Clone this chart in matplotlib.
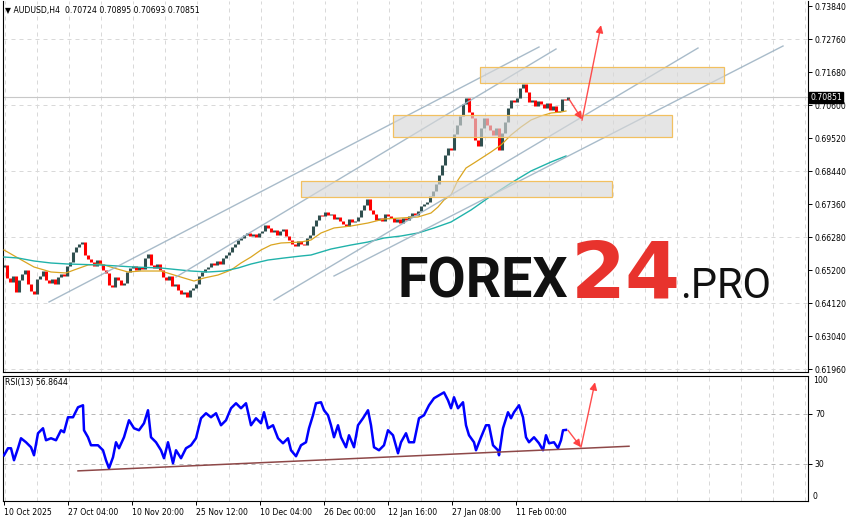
import numpy as np
import matplotlib
matplotlib.use("Agg")
import matplotlib.pyplot as plt
import matplotlib.transforms as mtransforms
from matplotlib.patches import Rectangle

# --- data ------------------------------------------------------------------
# closes sampled every 3rd H4 bar, starting at 10 Oct 2025
closes = [
    0.65364, 0.64938, 0.64808, 0.65004, 0.64480, 0.64873, 0.65069, 0.65200, 0.64742, 0.64512,
    0.64414, 0.64906, 0.65004, 0.65167, 0.64873, 0.64775, 0.64906, 0.64742, 0.64971, 0.65069,
    0.65004, 0.65331, 0.65462, 0.65789, 0.65953, 0.66051, 0.66116, 0.65691, 0.65560, 0.65462,
    0.65331, 0.65527, 0.65396, 0.65200, 0.65102, 0.64709, 0.64644, 0.64971, 0.64873, 0.64709,
    0.64775, 0.65135, 0.65265, 0.65331, 0.65200, 0.65298, 0.65233, 0.65593, 0.65724, 0.65364,
    0.65265, 0.65396, 0.65200, 0.64971, 0.64873, 0.65004, 0.64676, 0.64742, 0.64545, 0.64414,
    0.64480, 0.64316, 0.64545, 0.64611, 0.64742, 0.65004, 0.65135, 0.65233, 0.65298, 0.65429,
    0.65364, 0.65495, 0.65396, 0.65593, 0.65691, 0.65789, 0.65953, 0.66051, 0.66182, 0.66247,
    0.66345, 0.66411, 0.66313, 0.66378, 0.66280, 0.66411, 0.66476, 0.66673, 0.66575, 0.66444,
    0.66509, 0.66345, 0.66476, 0.66542, 0.66313, 0.66182, 0.66051, 0.65985, 0.66149, 0.66051,
    0.66018, 0.66247, 0.66345, 0.66640, 0.66836, 0.67000, 0.66967, 0.67098, 0.67000, 0.67033,
    0.66869, 0.66935, 0.66804, 0.66705, 0.66640, 0.66869, 0.66771, 0.66804, 0.66935, 0.67164,
    0.67327, 0.67524, 0.67164, 0.67033, 0.66836, 0.66902, 0.66804, 0.67033, 0.66967, 0.66902,
    0.66771, 0.66869, 0.66738, 0.66902, 0.66836, 0.66967, 0.67065, 0.67000, 0.67131, 0.67295,
    0.67360, 0.67425, 0.67622, 0.67785, 0.68014, 0.68309, 0.68636, 0.68964, 0.69193, 0.69127,
    0.69651, 0.69945, 0.70240, 0.70633, 0.70829, 0.70371, 0.70175, 0.69455, 0.69258, 0.69847,
    0.70175, 0.69945, 0.69782, 0.69618, 0.69847, 0.69127, 0.69684, 0.70044, 0.70502, 0.70764,
    0.70698, 0.70829, 0.71156, 0.71287, 0.71025, 0.70698, 0.70764, 0.70567, 0.70731, 0.70633,
    0.70502, 0.70665, 0.70436, 0.70567, 0.70371, 0.70404, 0.70796, 0.70764, 0.70851,
]
first_open = 0.65300
bar_step = 3

# moving averages (bar index, value)
fast_ma_bars = [0, 14, 30, 47, 62, 70, 84, 97, 110, 124, 137, 157, 180, 190, 200, 214, 227,
                237, 247, 257, 267, 277, 297, 307, 317, 330, 347, 364, 380, 397, 414, 427,
                434, 440, 447, 454, 462, 470, 487, 497, 507, 517, 527, 537, 547, 557, 562]
fast_ma = [0.65855, 0.65593, 0.65298, 0.65135, 0.65102, 0.65200, 0.65364, 0.65396, 0.65265,
           0.65135, 0.65167, 0.65167, 0.64938, 0.64840, 0.64938, 0.65036, 0.65200, 0.65429,
           0.65625, 0.65855, 0.66018, 0.66084, 0.66116, 0.66182, 0.66411, 0.66575, 0.66640,
           0.66738, 0.66869, 0.66902, 0.66935, 0.67065, 0.67262, 0.67491, 0.67655, 0.68145,
           0.68538, 0.68702, 0.69062, 0.69291, 0.69618, 0.69880, 0.70109, 0.70240, 0.70338,
           0.70371, 0.70404]
slow_ma_bars = [0, 14, 30, 47, 64, 97, 130, 157, 187, 204, 220, 234, 247, 264, 280, 297, 307,
                327, 347, 364, 380, 397, 414, 430, 447, 467, 487, 507, 527, 547, 562]
slow_ma = [0.65625, 0.65593, 0.65495, 0.65429, 0.65396, 0.65364, 0.65298, 0.65265, 0.65167,
           0.65135, 0.65167, 0.65265, 0.65396, 0.65527, 0.65593, 0.65658, 0.65691, 0.65887,
           0.66018, 0.66116, 0.66247, 0.66313, 0.66411, 0.66575, 0.66771, 0.67164, 0.67622,
           0.68047, 0.68440, 0.68734, 0.68931]

# RSI(13) (bar index, value)
rsi_bars = [0, 4, 7, 10, 14, 17, 22, 27, 30, 34, 39, 42, 47, 52, 57, 60, 64, 69, 74, 79, 80,
            84, 87, 94, 99, 102, 105, 109, 112, 115, 120, 125, 130, 135, 140, 144, 147, 152,
            157, 160, 164, 169, 172, 177, 182, 187, 192, 197, 202, 207, 212, 217, 222, 227,
            232, 237, 242, 247, 252, 257, 260, 264, 269, 274, 279, 284, 287, 292, 297, 302,
            305, 309, 312, 317, 320, 324, 327, 330, 334, 337, 342, 345, 350, 354, 359, 364,
            367, 370, 375, 380, 384, 389, 394, 397, 402, 405, 410, 415, 420, 425, 430, 435,
            440, 444, 447, 450, 454, 459, 462, 465, 470, 472, 477, 482, 485, 489, 494, 495,
            499, 504, 507, 510, 515, 519, 522, 525, 530, 535, 539, 542, 545, 550, 554, 557,
            559, 562]
rsi = [36.6, 42.2, 42.2, 32.6, 42.2, 50.2, 47.0, 43.0, 36.6, 54.2, 58.2, 48.6, 50.2, 48.6,
       56.6, 55.0, 67.0, 67.0, 75.0, 76.6, 56.6, 51.0, 44.6, 44.6, 40.6, 32.6, 26.2, 35.0,
       47.0, 42.2, 51.0, 64.6, 58.2, 56.6, 62.2, 72.6, 51.0, 47.0, 40.6, 34.2, 47.0, 30.2,
       40.6, 34.2, 42.2, 44.6, 50.2, 66.2, 70.2, 67.0, 70.2, 60.6, 64.6, 74.2, 78.2, 74.2,
       78.2, 60.6, 66.2, 62.2, 71.0, 58.2, 60.6, 50.2, 46.2, 50.2, 40.6, 35.8, 44.6, 47.0,
       58.2, 68.6, 78.2, 79.0, 72.6, 68.6, 60.6, 51.0, 60.6, 51.0, 43.0, 52.6, 43.0, 60.6,
       66.2, 72.6, 60.6, 43.0, 40.6, 44.6, 56.6, 52.6, 38.2, 47.0, 54.2, 47.0, 47.0, 66.2,
       68.6, 76.6, 82.2, 84.6, 86.9, 80.6, 74.2, 83.0, 74.2, 79.0, 60.6, 52.6, 47.0, 40.6,
       51.0, 60.6, 60.6, 44.6, 40.6, 36.6, 58.2, 71.0, 66.2, 71.0, 76.6, 67.0, 51.0, 47.0,
       51.0, 46.2, 40.6, 52.6, 46.2, 47.0, 42.2, 48.6, 56.6, 56.86]

# chart objects: channel lines, zones, arrows (bar index, price)
channel_lines = [((45, 0.64153), (535, 0.72498)),
                 ((172, 0.64971), (552, 0.72433)),
                 ((270, 0.64218), (694, 0.72465)),
                 ((330, 0.65004), (779, 0.72531))]
zones = [((297, 0.67599), (608, 0.68113)),
         ((389, 0.69563), (668, 0.70273)),
         ((476, 0.71320), (720, 0.71834))]
price_arrows = [((565, 0.70796), (578, 0.70130)),
                ((578, 0.70100), (597, 0.73215))]
rsi_trend = ((74, 24.1), (625, 43.8))
rsi_arrows = [((564, 56.6), (577, 43.0)),
              ((577, 43.0), (591, 95.0))]

price_ticks = [0.73840, 0.72760, 0.71680, 0.70600, 0.69520, 0.68440,
               0.67360, 0.66280, 0.65200, 0.64120, 0.63040, 0.61960]
time_labels = ["10 Oct 2025", "27 Oct 04:00", "10 Nov 20:00", "25 Nov 12:00", "10 Dec 04:00",
               "26 Dec 00:00", "12 Jan 16:00", "27 Jan 08:00", "11 Feb 00:00"]
time_label_bars = [0, 64, 128, 192, 256, 320, 384, 448, 512]

symbol_title = "\u25bc AUDUSD,H4  0.70724 0.70895 0.70693 0.70851"
rsi_title = "RSI(13) 56.8644"

# --- figure -----------------------------------------------------------------
W, H = 855, 521
fig = plt.figure(figsize=(W / 100, H / 100), dpi=100)
fs = 5.6
grid_col = "#d9d9d9"
red = "#ff3b3b"


def px_axes(l, t, r, b):
    return fig.add_axes([l / W, 1 - b / H, (r - l) / W, (b - t) / H])


ax = px_axes(3, 1, 808, 372)
rax = px_axes(3, 376, 808, 501)

for a in (ax, rax):
    a.set_xlim(-1, 804)
    for s in a.spines.values():
        s.set_color("black")
        s.set_linewidth(0.8)
    a.yaxis.tick_right()
    a.tick_params(axis="y", direction="out", length=3, width=0.7, labelsize=fs, pad=2)
    for gx in np.arange(0, 805, 32):
        a.axvline(gx + 0.7, color=grid_col, lw=0.72, ls=(0, (4, 4)), zorder=0)
ax.spines["top"].set_visible(False)

# main panel
ax.set_ylim(0.61862, 0.74004)
ax.set_yticks(price_ticks)
ax.set_yticklabels([f"{p:.5f}" for p in price_ticks])
ax.set_xticks([])
for p in price_ticks[1::2]:
    ax.axhline(p, color=grid_col, lw=0.72, ls=(0, (4, 4)), zorder=0)
ax.axhline(closes[-1], color="#c8c8c8", lw=0.8, zorder=1)

bars = np.arange(len(closes)) * bar_step
c = np.array(closes)
o = np.concatenate([[first_open], c[:-1]])
up = c >= o
ax.vlines(bars[up], np.minimum(o, c)[up], np.maximum(o, c)[up], color="#2f4f4f", lw=2.2, zorder=2)
ax.vlines(bars[~up], np.minimum(o, c)[~up], np.maximum(o, c)[~up], color="#ff0000", lw=2.2, zorder=2)

ax.plot(fast_ma_bars, fast_ma, color="#daa520", lw=0.9, zorder=3)
ax.plot(slow_ma_bars, slow_ma, color="#20b2aa", lw=1.0, zorder=3)

for (x0, y0), (x1, y1) in channel_lines:
    ax.plot([x0, x1], [y0, y1], color="#9fb4c4", lw=1.0, alpha=0.9, zorder=4)

for (x0, y0), (x1, y1) in zones:
    ax.add_patch(Rectangle((x0, y0), x1 - x0, y1 - y0, facecolor="#d8d8d8", alpha=0.65,
                           edgecolor="none", zorder=5))
    ax.add_patch(Rectangle((x0, y0), x1 - x0, y1 - y0, facecolor="none",
                           edgecolor="#f2c060", lw=0.9, zorder=5))

for (x0, y0), (x1, y1) in price_arrows:
    ax.annotate("", xy=(x1, y1), xytext=(x0, y0),
                arrowprops=dict(arrowstyle="-|>", color=red, lw=1.0, mutation_scale=11,
                                shrinkA=0, shrinkB=0, alpha=0.9), zorder=6)

trans = mtransforms.blended_transform_factory(ax.transAxes, ax.transData)
ax.text(1.003, closes[-1], f"{closes[-1]:.5f}", transform=trans, fontsize=fs, color="white",
        va="center", ha="left", zorder=10, clip_on=False,
        bbox=dict(boxstyle="square,pad=0.15", facecolor="black", edgecolor="black"))

# RSI panel
rax.set_ylim(0, 100)
rax.set_yticks([30, 70])
rax.set_yticklabels(["30", "70"])
rtrans = mtransforms.blended_transform_factory(rax.transAxes, rax.transData)
rax.text(1.006, 100, "100", transform=rtrans, fontsize=fs, va="top", ha="left", clip_on=False)
rax.text(1.006, 0, "0", transform=rtrans, fontsize=fs, va="bottom", ha="left", clip_on=False)
for lv in (30, 70):
    rax.axhline(lv, color="#b8b8b8", lw=0.72, ls=(0, (4, 4)), zorder=0)
rax.plot(rsi_bars, rsi, color="#0000ff", lw=1.8, zorder=3)
(tx0, ty0), (tx1, ty1) = rsi_trend
rax.plot([tx0, tx1], [ty0, ty1], color="#8e4848", lw=1.1, zorder=4)
for (x0, y0), (x1, y1) in rsi_arrows:
    rax.annotate("", xy=(x1, y1), xytext=(x0, y0),
                 arrowprops=dict(arrowstyle="-|>", color=red, lw=1.0, mutation_scale=11,
                                 shrinkA=0, shrinkB=0, alpha=0.9), zorder=6)
rax.set_xticks(time_label_bars)
rax.set_xticklabels(time_labels)
rax.tick_params(axis="x", direction="out", length=3, width=0.7, labelsize=fs, pad=2)
for lbl in rax.get_xticklabels():
    lbl.set_ha("left")

# header texts
fig.text(5 / W, 1 - 10 / H, symbol_title, fontsize=fs, va="center", ha="left")
fig.text(5 / W, 1 - 383 / H, rsi_title, fontsize=fs, va="center", ha="left")

# watermark
base = 1 - 298 / H
fig.text(397 / W, base, "FOREX", family="Roboto", fontweight="bold", fontsize=40,
         color="#111111", va="baseline", ha="left")
fig.text(571 / W, base, "24", family="DejaVu Sans", fontweight="bold", fontsize=57,
         color="#e8332d", va="baseline", ha="left")
fig.text(680 / W, base, ".PRO", family="Roboto", fontsize=30,
         color="#111111", va="baseline", ha="left")

fig.savefig("out.png", dpi=100)
